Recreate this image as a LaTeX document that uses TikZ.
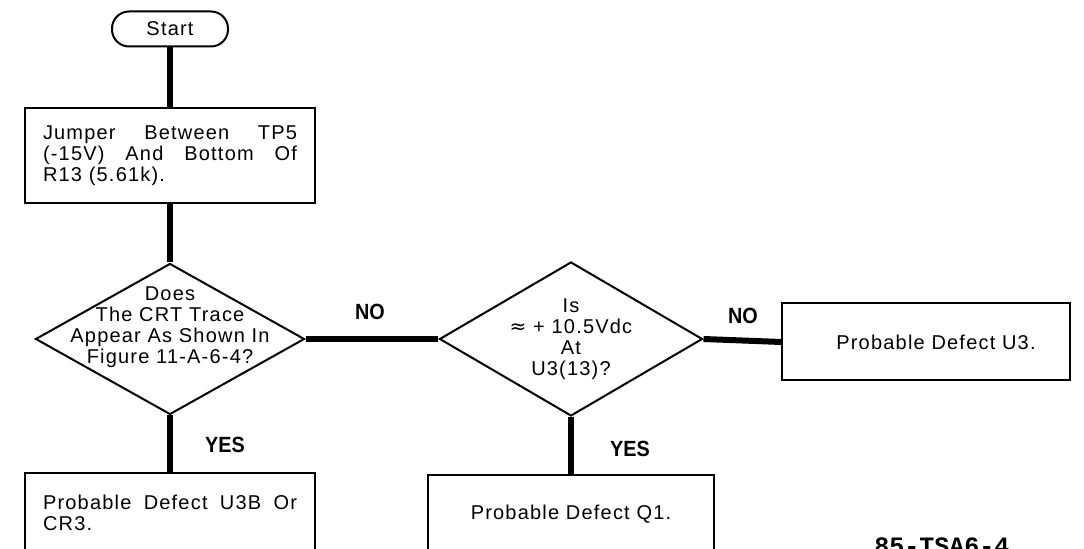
\documentclass[tikz,border=0pt]{standalone}
\usepackage{fontspec}
\setmainfont{Liberation Sans}[LetterSpace=6]
\newfontfamily\symfont{DejaVu Sans}
\newfontfamily\answerfont{Liberation Sans}[FakeStretch=0.9]
\newfontfamily\tagfont{Liberation Mono}
\usetikzlibrary{shapes.geometric, positioning}

\begin{document}
\begin{tikzpicture}[
  x=0.5pt, y=-0.5pt,
  font=\fontsize{10}{10.5}\selectfont,
  terminal/.style={rectangle, draw, line width=1pt, rounded corners=8.5pt, minimum width=58pt, minimum height=17.5pt, inner sep=0pt},
  process/.style={rectangle, draw, line width=1pt, align=justify, text width=127pt, inner xsep=9pt, minimum height=40pt},
  result/.style={rectangle, draw, line width=1pt, align=center, minimum height=39pt},
  decision/.style={diamond, draw, line width=1pt, inner sep=0pt},
  question/.style={align=center, inner sep=0pt},
  answer/.style={font=\answerfont\bfseries\fontsize{11}{13}\selectfont},
  flow/.style={line width=3pt}
]
\useasboundingbox (0,0) rectangle (1084,549);
\fill[white] (0,0) rectangle (1084,549);

% Nodes
\node[terminal] (start) at (170,29) {Start};
\node[process, minimum height=47.5pt] (jumper) at (170,155.5) {Jumper Between TP5\linebreak (-15V) And Bottom Of\linebreak R13 (5.61k).};
\node[decision, minimum width=134.5pt, minimum height=75.5pt] (crt) at (170,339) {};
\node[question] (crtq) at ([yshift=6pt]crt.center) {Does\\The CRT Trace\\Appear As Shown In\\Figure 11-A-6-4?};
\node[decision, minimum width=131.5pt, minimum height=77pt] (volt) at (571,339) {};
\node[question] (voltq) at ([yshift=0pt]volt.center) {Is\\{\symfont ≈} + 10.5Vdc\\At\\U3(13)?};
\node[result, minimum width=144pt, minimum height=38.5pt] (defu3) at (926,342) {\hspace*{10pt}Probable Defect U3.};
\node[process] (defu3b) at (170,513) {Probable Defect U3B Or\linebreak CR3.};
\node[result, minimum width=143pt] (defq1) at (571,514) {Probable Defect Q1.};

% Answers
\node[answer] (no1) at (370,312) {NO};
\node[answer] (no2) at (743,316) {NO};
\node[answer] (yes1) at (225,445) {YES};
\node[answer] (yes2) at (630,449) {YES};
\node[font=\tagfont\bfseries\fontsize{12.5}{14}\selectfont] (tag) at (942,546) {85-TSA6-4};

% Lines
\draw[flow] (start) -- (jumper);
\draw[flow] (jumper) -- (crt);
\draw[flow] (crt) -- (volt);
\draw[flow] (volt.east) -- (defu3.west);
\draw[flow] (crt) -- (defu3b);
\draw[flow] (volt) -- (defq1);

\end{tikzpicture}
\end{document}
